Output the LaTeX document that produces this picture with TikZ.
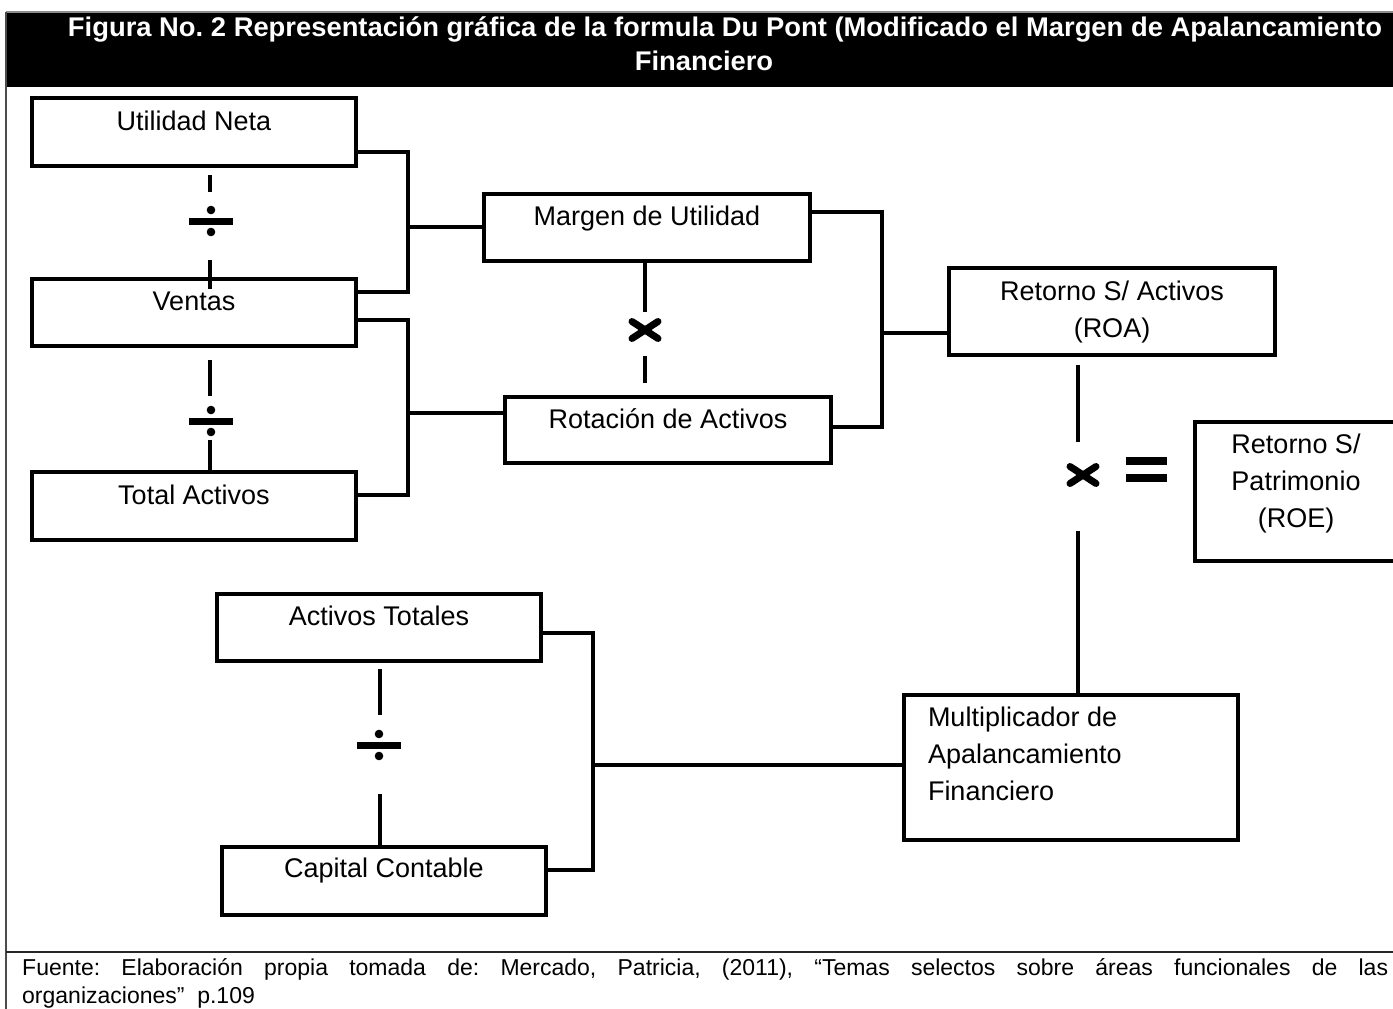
\documentclass[tikz,border=0pt]{standalone}
\usepackage{fontspec}
\setmainfont{Liberation Sans}
\usepackage{graphicx}
\usetikzlibrary{calc}
\frenchspacing
\newlength\fitlen
\newcommand\hdtext{Figura No. 2 Representación gráfica de la formula Du Pont (Modificado el Margen de Apalancamiento}
\newcommand\fitline[2]{\settowidth\fitlen{#2}\pgfmathsetmacro\hdratiolocal{#1/\fitlen}\global\let\hdratio\hdratiolocal\scalebox{\hdratio}[1]{#2}}
\newcommand\tbox[4]{\parbox[c][#2][t]{#1}{\centering\rule{0pt}{#3}#4}}
\newcommand\lbox[4]{\parbox[c][#2][t]{#1}{\raggedright\leftskip=24pt\rule{0pt}{#3}#4}}
\tikzset{
  box/.style={draw, line width=3.8pt, inner sep=0pt, font=\fontsize{27}{37}\selectfont},
  conn/.style={line width=3.8pt},
  hdr/.style={anchor=base, inner sep=0pt, text=white, font=\fontsize{27}{30}\selectfont\bfseries},
  divop/.pic={\fill (-22,-3.5) rectangle (22,3.5); \fill (0,-11) circle (4.3); \fill (0,11) circle (4.3);},
  mulop/.pic={\draw[line width=7pt, line cap=round] (-13,-8.5) -- (13,8.5); \draw[line width=7pt, line cap=round] (-13,8.5) -- (13,-8.5);},
  eqop/.pic={\fill (-20.5,-12.5) rectangle (20.5,-4.5); \fill (-20.5,4.5) rectangle (20.5,12.5);}
}
\begin{document}
\begin{tikzpicture}[x=1pt,y=-1pt]
\frenchspacing
\useasboundingbox (0,0) rectangle (1393,1009);
\clip (0,0) rectangle (1393,1009);
\fill[white] (0,0) rectangle (1393,1009);
% frame
\fill[black] (7,12.5) rectangle (1393,87);
\draw[black!45, line width=1.2pt] (6,12) -- (1393,12);
\draw[black!70, line width=1.5pt] (6,12) -- (6,1009);
\draw[black!85, line width=1.5pt] (6,952) -- (1393,952);
% header
\node[hdr] (t1) at (725,36) {\frenchspacing\fitline{1314}{\hdtext}};
\node[hdr] (t2) at (704,70) {\scalebox{\hdratio}[1]{Financiero}};
% boxes
\node[box] (un) at (194,132) {\tbox{324pt}{68pt}{32pt}{Utilidad Neta}};
\node[box] (ve) at (194,312.5) {\tbox{324pt}{67pt}{31pt}{Ventas}};
\node[box] (ta) at (194,506) {\tbox{324pt}{68pt}{32pt}{Total Activos}};
\node[box] (mu) at (647,227.5) {\tbox{326pt}{67pt}{31pt}{Margen de Utilidad}};
\node[box] (ra) at (668,430) {\tbox{326pt}{66pt}{31pt}{Rotación de Activos}};
\node[box] (roa) at (1112,311.5) {\tbox{326pt}{87pt}{32pt}{Retorno S/ Activos\\(ROA)}};
\node[box] (roe) at (1296,491.5) {\tbox{202pt}{139pt}{31pt}{Retorno S/\\Patrimonio\\(ROE)}};
\node[box] (at) at (379,627.5) {\tbox{324pt}{67pt}{31pt}{Activos Totales}};
\node[box] (cc) at (384,881) {\tbox{324pt}{68pt}{30pt}{Capital Contable}};
\node[box] (maf) at (1071,767.5) {\lbox{334pt}{145pt}{31pt}{Multiplicador de\\Apalancamiento\\Financiero}};
% connectors
\coordinate (j1) at (408,227);
\draw[conn] ($(un.east)+(0,20)$) -| (j1) |- ($(ve.east)+(0,-20.5)$);
\draw[conn] (j1) -- (j1 -| mu.west);
\coordinate (j2) at (408,413);
\draw[conn] ($(ve.east)+(0,7.5)$) -| (j2) |- ($(ta.east)+(0,-11)$);
\draw[conn] (j2) -- (j2 -| ra.west);
\coordinate (j3) at (882,333);
\draw[conn] ($(mu.east)+(0,-15.5)$) -| (j3) |- ($(ra.east)+(0,-3)$);
\draw[conn] (j3) -- (j3 -| roa.west);
\coordinate (j4) at (593,765);
\draw[conn] ($(at.east)+(0,5.5)$) -| (j4) |- ($(cc.east)+(0,-11)$);
\draw[conn] (j4) -- (j4 -| maf.west);
% operator lines
\draw[conn] ($(un.south)+(16,7)$) -- ($(un.south)+(16,24)$);
\draw[conn] ($(ve.north)+(16,-17)$) -- ($(ve.north)+(16,12)$);
\draw[conn] ($(ve.south)+(16,12)$) -- ($(ve.south)+(16,48)$);
\draw[conn] ($(ta.north)+(16,-30)$) -- ($(ta.north)+(16,0)$);
\draw[conn] ($(mu.south)+(-2,0)$) -- ($(mu.south)+(-2,49)$);
\draw[conn] ($(ra.north)+(-23,-39)$) -- ($(ra.north)+(-23,-12)$);
\draw[conn] ($(roa.south)+(-34,8)$) -- ($(roa.south)+(-34,85)$);
\draw[conn] ($(maf.north)+(7,-162)$) -- ($(maf.north)+(7,0)$);
\draw[conn] ($(at.south)+(1,6)$) -- ($(at.south)+(1,52)$);
\draw[conn] ($(cc.north)+(-4,-51)$) -- ($(cc.north)+(-4,0)$);
% operators
\pic at (211,221) {divop};
\pic at (211,421) {divop};
\pic at (379,745) {divop};
\pic at (645,330) {mulop};
\pic at (1083,475) {mulop};
\pic at (1146,469.5) {eqop};
% footer
\node[anchor=base west, inner sep=0pt, font=\fontsize{23}{28}\selectfont] (ft) at (22,975) {\parbox[t]{1366pt}{\frenchspacing\hyphenpenalty=10000\tolerance=10000 Fuente: Elaboración propia tomada de: Mercado, Patricia, (2011), “Temas selectos sobre áreas funcionales de las\linebreak organizaciones”~ p.109}};
\end{tikzpicture}
\end{document}
